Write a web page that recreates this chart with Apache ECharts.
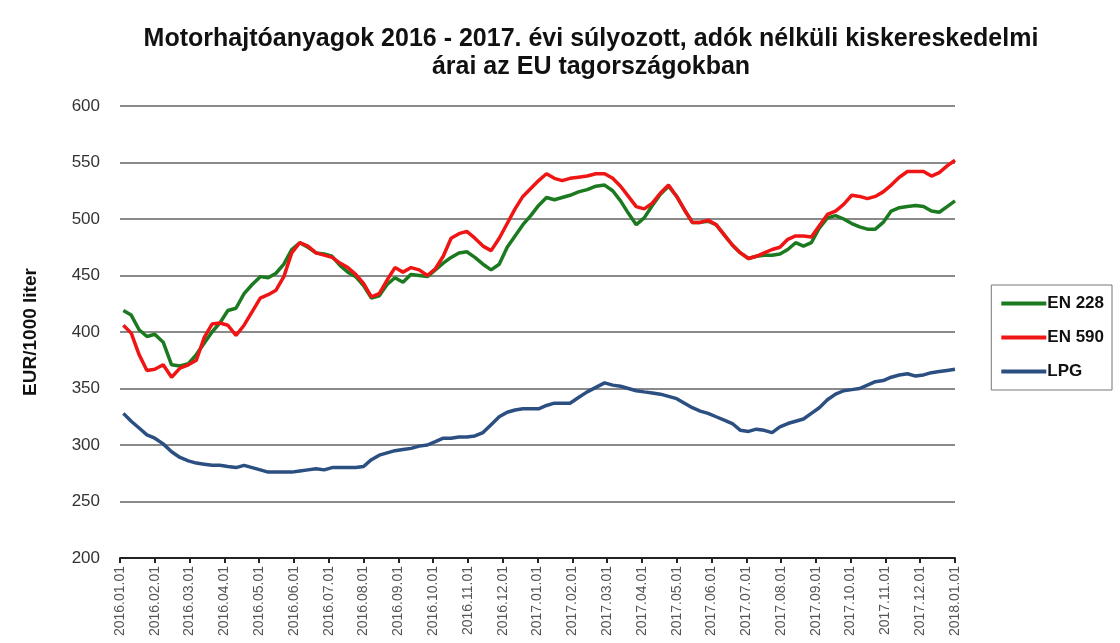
<!doctype html>
<html>
<head>
<meta charset="utf-8" />
<script src="https://cdn.jsdelivr.net/npm/echarts@6/dist/echarts.min.js"></script>
<style>
  html, body { margin: 0; padding: 0; background: #fff; }
  #chart { width: 1120px; height: 643px; }
</style>
</head>
<body>
<div id="chart"></div>
<script>
// month tick labels on the x axis
const tickLabels = [
  '2016.01.01', '2016.02.01', '2016.03.01', '2016.04.01', '2016.05.01', '2016.06.01',
  '2016.07.01', '2016.08.01', '2016.09.01', '2016.10.01', '2016.11.01', '2016.12.01',
  '2017.01.01', '2017.02.01', '2017.03.01', '2017.04.01', '2017.05.01', '2017.06.01',
  '2017.07.01', '2017.08.01', '2017.09.01', '2017.10.01', '2017.11.01', '2017.12.01',
  '2018.01.01'
];

// weekly observations, first one on 2016-01-04, 105 weeks
const firstWeek = '2016-01-04';
const weekCount = 105;

const en228 = [
  419, 415, 402, 396, 398, 391, 371, 370, 372, 380, 390, 400, 408, 419, 421, 434,
  442, 449, 448, 452, 460, 473, 479, 475, 470, 469, 467, 459, 453, 449, 441, 430,
  432, 442, 448, 444, 451, 450, 449, 455, 461, 466, 470, 471, 466, 460, 455, 460,
  475, 485, 495, 503, 512, 519, 517, 519, 521, 524, 526, 529, 530, 525, 516, 505,
  495, 501, 512, 522, 529, 520, 508, 497, 497, 498, 495, 486, 477, 470, 465, 467,
  468, 468, 469, 473, 479, 476, 479, 492, 501, 503, 500, 496, 493, 491, 491, 497,
  507, 510, 511, 512, 511, 507, 506, 511, 516
];

const en590 = [
  406, 399, 380, 366, 367, 371, 360, 368, 371, 375, 395, 407, 408, 406, 397, 406,
  418, 430, 433, 437, 449, 470, 479, 476, 470, 468, 466, 461, 457, 451, 443, 431,
  434, 446, 457, 453, 457, 455, 450, 456, 467, 483, 487, 489, 483, 476, 472, 483,
  496, 509, 520, 527, 534, 540, 536, 534, 536, 537, 538, 540, 540, 536, 529, 520,
  511, 509, 514, 523, 530, 520, 508, 497, 497, 499, 495, 486, 477, 470, 465, 467,
  470, 473, 475, 482, 485, 485, 484, 494, 504, 507, 513, 521, 520, 518, 520, 524,
  530, 537, 542, 542, 542, 538, 541, 547, 552
];

const lpg = [
  328, 321, 315, 309, 306, 301, 294, 289, 286, 284, 283, 282, 282, 281, 280, 282,
  280, 278, 276, 276, 276, 276, 277, 278, 279, 278, 280, 280, 280, 280, 281, 287,
  291, 293, 295, 296, 297, 299, 300, 303, 306, 306, 307, 307, 308, 311, 318, 325,
  329, 331, 332, 332, 332, 335, 337, 337, 337, 342, 347, 351, 355, 353, 352, 350,
  348, 347, 346, 345, 343, 341, 337, 333, 330, 328, 325, 322, 319, 313, 312, 314,
  313, 311, 316, 319, 321, 323, 328, 333, 340, 345, 348, 349, 350, 353, 356, 357,
  360, 362, 363, 361, 362, 364, 365, 366, 367
];

// convert a date to a fractional month index counted from 2016-01-01
function monthIndex(d) {
  const y = d.getUTCFullYear(), m = d.getUTCMonth();
  const days = new Date(Date.UTC(y, m + 1, 0)).getUTCDate();
  return (y - 2016) * 12 + m + (d.getUTCDate() - 1) / days;
}

const weekPos = [];
const start = new Date(firstWeek + 'T00:00:00Z');
for (let i = 0; i < weekCount; i++) {
  weekPos.push(monthIndex(new Date(start.getTime() + i * 7 * 86400000)));
}
const pair = (vals) => vals.map((v, i) => [weekPos[i], v]);

const font = '"Liberation Sans", Arial, sans-serif';

const chart = echarts.init(document.getElementById('chart'));
chart.setOption({
  animation: false,
  backgroundColor: '#fff',
  title: {
    text: 'Motorhajtóanyagok 2016 - 2017. évi súlyozott, adók nélküli kiskereskedelmi\nárai az EU tagországokban',
    left: 586,
    textAlign: 'center',
    top: 20,
    textStyle: {
      fontFamily: font,
      fontSize: 25,
      fontWeight: 'bold',
      color: '#111',
      lineHeight: 28
    }
  },
  legend: {
    orient: 'vertical',
    right: 8,
    top: 285,
    padding: [10, 8, 10, 10],
    itemGap: 17,
    itemWidth: 45,
    itemHeight: 4,
    icon: 'rect',
    borderColor: '#777',
    borderWidth: 1,
    textStyle: {
      fontFamily: font,
      fontSize: 17,
      fontWeight: 'bold',
      color: '#111',
      padding: [0, 0, 0, -4]
    },
    data: ['EN 228', 'EN 590', 'LPG']
  },
  grid: { left: 120, right: 165, top: 106, bottom: 85 },
  xAxis: {
    type: 'value',
    min: 0,
    max: 24,
    interval: 1,
    axisLine: { show: true, onZero: false, lineStyle: { color: '#222', width: 2 } },
    axisTick: { show: true, length: 5, lineStyle: { color: '#222', width: 2 } },
    splitLine: { show: false },
    axisLabel: {
      rotate: 90,
      fontFamily: font,
      fontSize: 14,
      color: '#555',
      margin: 8,
      formatter: (v) => tickLabels[Math.round(v)] || ''
    }
  },
  yAxis: {
    type: 'value',
    min: 200,
    max: 600,
    interval: 50,
    name: 'EUR/1000 liter',
    nameLocation: 'middle',
    nameGap: 80,
    nameRotate: 90,
    nameTextStyle: {
      fontFamily: font,
      fontSize: 19,
      fontWeight: 'bold',
      color: '#111'
    },
    axisLine: { show: false },
    axisTick: { show: false },
    splitLine: { lineStyle: { color: '#8a8a8a', width: 2 } },
    axisLabel: {
      fontFamily: font,
      fontSize: 17,
      color: '#333',
      margin: 20
    }
  },
  series: [
    {
      name: 'EN 228', type: 'line', data: pair(en228), showSymbol: false, symbol: 'none',
      lineStyle: { color: '#1b7a1f', width: 3.5 }, itemStyle: { color: '#1b7a1f' }, z: 3
    },
    {
      name: 'EN 590', type: 'line', data: pair(en590), showSymbol: false, symbol: 'none',
      lineStyle: { color: '#f01515', width: 3.5 }, itemStyle: { color: '#f01515' }, z: 4
    },
    {
      name: 'LPG', type: 'line', data: pair(lpg), showSymbol: false, symbol: 'none',
      lineStyle: { color: '#2c4f82', width: 3.5 }, itemStyle: { color: '#2c4f82' }, z: 3
    }
  ]
});
</script>
</body>
</html>
